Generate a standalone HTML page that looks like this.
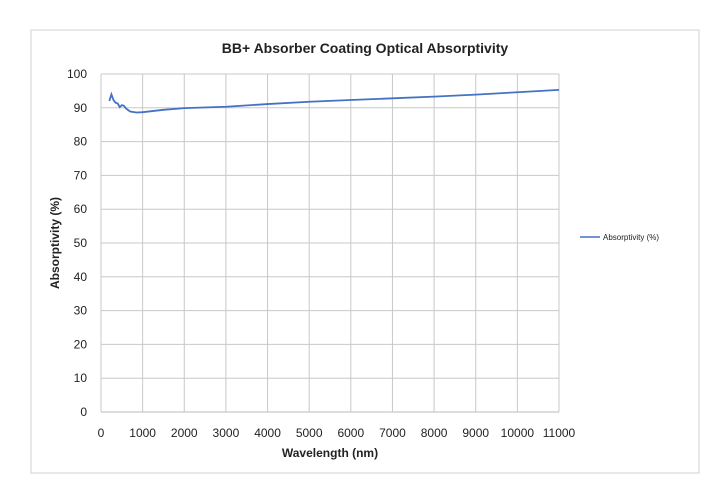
<!DOCTYPE html>
<html><head><meta charset="utf-8"><style>
body{margin:0;background:#fff;font-family:"Liberation Sans",sans-serif}
</style></head><body>
<svg width="720" height="492" id="c">
<rect x="31" y="30" width="668" height="443" fill="#fff" stroke="#d0d0d0"/>
<text x="365" y="53" text-anchor="middle" font-size="14" font-weight="bold" fill="#222">BB+ Absorber Coating Optical Absorptivity</text>
<g id="grid"></g>
<g id="ticks" font-size="12" fill="#222"></g>
<text x="330" y="457" text-anchor="middle" font-size="12" font-weight="bold" fill="#222">Wavelength (nm)</text>
<text transform="translate(59,243) rotate(-90)" text-anchor="middle" font-size="12" font-weight="bold" fill="#222">Absorptivity (%)</text>
<g>
<line x1="580" y1="237" x2="600" y2="237" stroke="#4472c4" stroke-width="1.5"/>
<text x="603" y="240" font-size="8" fill="#222">Absorptivity (%)</text>
</g>
</svg>
<script>
const wavelengths=[200,250,300,350,400,450,500,550,600,700,850,1000,1500,2000,3000,4000,5000,6000,7000,8000,9000,10000,11000];
const absorptivity=[92,94,92.3,91.5,91.3,90.2,90.8,90.6,89.8,88.9,88.6,88.7,89.4,89.9,90.3,91.1,91.8,92.3,92.8,93.3,93.9,94.6,95.3];
const xTicks=[0,1000,2000,3000,4000,5000,6000,7000,8000,9000,10000,11000];
const yTicks=[0,10,20,30,40,50,60,70,80,90,100];
const L=101,R=559,T=74,B=412;
const sx=v=>L+(v-0)/11000*(R-L), sy=v=>B-(v/100)*(B-T);
const NS="http://www.w3.org/2000/svg";
const svg=document.getElementById('c'),grid=document.getElementById('grid'),tk=document.getElementById('ticks');
function mk(tag,at,parent){const e=document.createElementNS(NS,tag);for(const k in at)e.setAttribute(k,at[k]);parent.appendChild(e);return e;}
yTicks.forEach(v=>{
 const l=mk('line',{x1:L,x2:R,y1:sy(v),y2:sy(v),stroke:v===0?'#bbb':'#c8c8c8','stroke-width':1},grid);
 
 
 const t=mk('text',{x:L-14,y:sy(v)+4,'text-anchor':'end'},tk);t.textContent=v;
 
 
});
xTicks.forEach(v=>{
 const l=mk('line',{x1:sx(v),x2:sx(v),y1:T,y2:B,stroke:'#c8c8c8','stroke-width':1},grid);
 
 
 const t=mk('text',{x:sx(v),y:B+25,'text-anchor':'middle'},tk);t.textContent=v;
 
 
});
const p=mk('polyline',{points:wavelengths.map((w,i)=>sx(w)+','+sy(absorptivity[i])).join(' '),fill:'none',stroke:'#4472c4','stroke-width':1.8},svg);


</script>
</body></html>
